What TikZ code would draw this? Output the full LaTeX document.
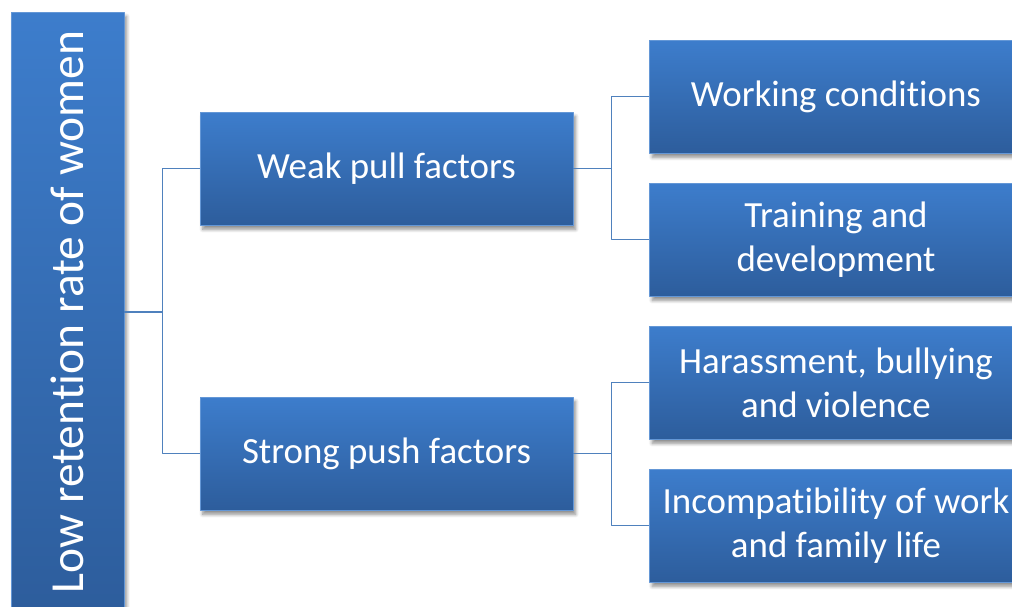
\documentclass[tikz,border=0pt]{standalone}
\usepackage{fontspec}
\setmainfont[Ligatures=NoCommon]{Carlito}
\usetikzlibrary{positioning, shadows, shadows.blur}
\definecolor{box_top}{RGB}{61,125,204}
\definecolor{box_bottom}{RGB}{45,93,156}
\definecolor{link_blue}{RGB}{79,129,189}

\begin{document}
\begin{tikzpicture}[x=0.02cm,y=-0.02cm,line join=round,
		factor/.style={rectangle, top color=box_top, bottom color=box_bottom,
			draw=box_top!80!white, line width=0.3pt, text=white, align=center,
			minimum width=7.46cm, minimum height=2.26cm, inner sep=0pt,
			font=\fontsize{21}{25}\selectfont,
			blur shadow={shadow xshift=1.5pt, shadow yshift=-2.5pt, shadow blur steps=6, shadow opacity=45}},
		link/.style={draw=link_blue, line width=0.7pt}]
		\useasboundingbox (0,0) rectangle (1012,607);
		\clip (0,0) rectangle (1012,607);
		\node[factor, minimum width=2.26cm, minimum height=12cm,
			font=\fontsize{27}{32}\selectfont] (root) at (67.5,312) {};
		\node[rotate=90, text=white, font=\fontsize{27}{32}\selectfont] (rootlabel) at (root.center) {Low retention rate of women};
		% middle level
		\node[factor] (weak)   at (386.5,168.5) {Weak pull factors};
		\node[factor] (strong) at (386.5,453.5) {Strong push factors};
		% right level
		\node[factor] (work)   at (836,96.5)  {Working conditions};
		\node[factor] (train)  at (836,239.5) {Training and\\development};
		\node[factor] (harass) at (836,382.5) {Harassment, bullying\\and violence};
		\node[factor] (incomp) at (836,525.5) {Incompatibility of work\\and family life};
		% connectors
		\draw[link] (root.east) -- ++(38,0) coordinate (rj);
		\draw[link] (weak.west) -| (rj) |- (strong.west);
		\draw[link] (weak.east) -- ++(38,0) coordinate (wj);
		\draw[link] (work.west) -| (wj) |- (train.west);
		\draw[link] (strong.east) -- ++(38,0) coordinate (sj);
		\draw[link] (harass.west) -| (sj) |- (incomp.west);
	\end{tikzpicture}
\end{document}
